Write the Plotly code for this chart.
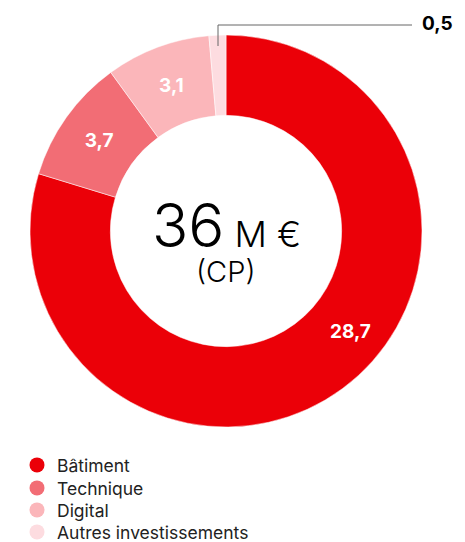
import plotly.graph_objects as go

categories = ["Bâtiment", "Technique", "Digital", "Autres investissements"]
values = [28.7, 3.7, 3.1, 0.5]
value_labels = ["28,7", "3,7", "3,1", "0,5"]
colors = ["#EB0008", "#F26D75", "#FBB6BA", "#FDDCE0"]
total_label = "36"

OFF = 8
W, H = 465 - OFF, 542 - OFF
def px(x): return (x - OFF) / W
def py(y): return (H - (y - OFF)) / H
cx, cy, R = 226, 231, 196

fig = go.Figure()
fig.add_trace(go.Pie(
    labels=categories, values=values, hole=0.59, sort=False, direction="clockwise",
    rotation=0,
    marker=dict(colors=colors, line=dict(color="white", width=0.5)),
    text=value_labels, texttemplate=["", "%{text}", "%{text}", ""],
    textinfo="text", textposition="inside", insidetextorientation="horizontal",
    textfont=dict(family="Inter", size=19, color="white", weight="bold"),
    showlegend=False, hoverinfo="skip",
    domain=dict(x=[px(cx - R), px(cx + R)], y=[py(cy + R), py(cy - R)]),
))

legend_rows = [465, 488, 510, 532]
layout_legends = {}
for i, (c, col) in enumerate(zip(categories, colors)):
    lname = "legend" if i == 0 else f"legend{i + 1}"
    fig.add_trace(go.Scatter(x=[None], y=[None], mode="markers", name=c, legend=lname,
                             marker=dict(symbol="circle", size=15, color=col)))
    layout_legends[lname] = dict(x=px(17), y=py(legend_rows[i]), xanchor="left", yanchor="middle",
                                 font=dict(family="Inter", size=17.5, color="#222222"),
                                 itemwidth=30, bgcolor="rgba(0,0,0,0)", borderwidth=0)

fig.update_layout(
    width=W, height=H, margin=dict(l=0, r=0, t=0, b=0, autoexpand=False),
    paper_bgcolor="white", plot_bgcolor="white",
    xaxis=dict(visible=False), yaxis=dict(visible=False),
    font=dict(family="Inter"),
    **layout_legends,
)

# big slice label
fig.add_annotation(x=px(350), y=py(332), xref="paper", yref="paper",
                   text=value_labels[0], showarrow=False, xanchor="center", yanchor="middle",
                   font=dict(family="Inter", size=19, color="white", weight="bold"))

# center text
fig.add_annotation(x=px(cx), y=py(225), xref="paper", yref="paper",
                   text=f"<span style='font-size:60px'>{total_label}</span><span style='font-size:36px'> M €</span>",
                   showarrow=False, font=dict(family="Inter", size=36, color="black", weight=300),
                   xanchor="center", yanchor="middle")
fig.add_annotation(x=px(cx), y=py(271), xref="paper", yref="paper",
                   text="(CP)", showarrow=False,
                   font=dict(family="Inter", size=29, color="black", weight=300),
                   xanchor="center", yanchor="middle")

# leader for small slice
fig.add_shape(type="path", xref="paper", yref="paper",
              path=f"M {px(218)} {py(46)} L {px(218)} {py(25)} L {px(412)} {py(25)}",
              line=dict(color="#666666", width=1))
fig.add_annotation(x=px(455), y=py(24), xref="paper", yref="paper",
                   text=value_labels[3], showarrow=False, xanchor="right", yanchor="middle",
                   font=dict(family="Inter", size=19, color="black", weight="bold"))

fig.write_html("out.html")
